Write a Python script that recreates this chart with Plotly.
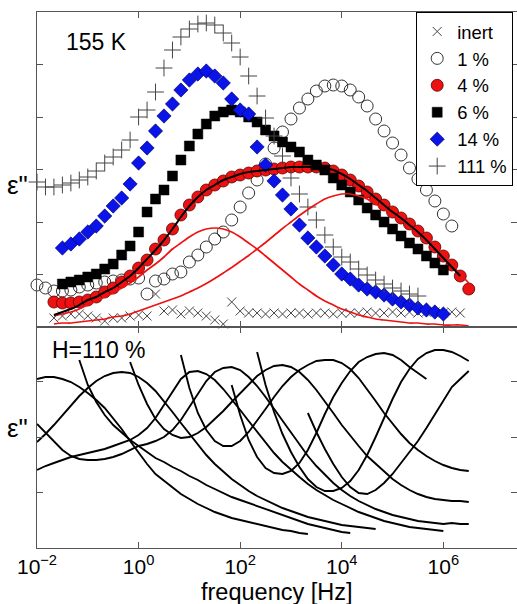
import plotly.graph_objects as go

# log10 of the measurement frequencies (six points per decade)
LOG_F = [-2.0, -1.833, -1.667, -1.5, -1.333, -1.167, -1.0, -0.833, -0.667, -0.5,
         -0.333, -0.167, 0.0, 0.167, 0.333, 0.5, 0.667, 0.833, 1.0, 1.167,
         1.333, 1.5, 1.667, 1.833, 2.0, 2.167, 2.333, 2.5, 2.667, 2.833,
         3.0, 3.167, 3.333, 3.5, 3.667, 3.833, 4.0, 4.167, 4.333, 4.5,
         4.667, 4.833, 5.0, 5.167, 5.333, 5.5, 5.667, 5.833, 6.0, 6.167,
         6.333, 6.5]

# ---- upper panel: loss spectra at 155 K (arbitrary units), first grid index + values
inert_i0 = 2
inert_eps = [1.8, 2.2, 2.6, 2.6, 2.2, 1.8, 1.2, 1.8, 1.8, 2.2, 2.4, 2.2, 6.6, 3.2, 3.4, 2.6,
             3.2, 2.8, 2.2, 1.4, 0.6, 5.0, 3.2, 2.8, 2.8, 2.6, 2.8, 2.6, 2.8, 2.8, 2.6, 2.8,
             2.8, 2.6, 2.8, 2.8, 2.8, 3.0, 2.8, 2.8, 3.0, 2.8, 3.0, 2.8, 3.0, 3.0, 2.8, 3.0, 2.8]

h1_i0 = 0
h1_eps = [8.4, 7.8, 7.2, 7.2, 7.4, 8.0, 8.4, 8.8, 9.0, 9.2, 9.4, 9.6, 9.8, 6.6, 9.2, 9.6,
          10.6, 11.0, 13.0, 14.4, 16.0, 17.6, 19.0, 21.4, 24.0, 26.8, 29.4, 32.6, 35.8, 39.0,
          41.6, 43.8, 45.6, 47.2, 48.2, 48.4, 48.2, 47.4, 46.0, 44.2, 41.6, 39.2, 36.8, 34.4,
          31.8, 29.6, 27.4, 25.2, 22.6, 20.2]

h4_i0 = 2
h4_eps = [5.0, 4.8, 4.8, 5.0, 5.4, 6.0, 7.0, 7.8, 9.0, 10.2, 11.8, 13.4, 15.6, 17.4, 19.6,
          22.4, 24.4, 26.0, 27.4, 28.4, 29.2, 30.0, 30.4, 30.8, 31.2, 31.4, 31.6, 31.8, 32.0,
          32.0, 32.0, 32.0, 31.8, 31.2, 30.4, 29.4, 28.2, 27.0, 25.6, 24.4, 23.0, 21.8, 20.6,
          19.2, 17.8, 16.0, 14.2, 12.4, 10.2, 7.6]

h6_i0 = 3
h6_eps = [8.6, 9.0, 9.4, 10.0, 10.6, 11.6, 12.6, 14.4, 16.2, 19.0, 23.0, 25.6, 27.4, 30.2,
          33.4, 36.2, 38.6, 40.6, 42.2, 43.0, 43.4, 43.0, 42.0, 41.0, 39.4, 38.2, 37.0, 36.0,
          35.0, 33.4, 32.4, 31.4, 29.8, 28.4, 27.0, 25.4, 23.8, 22.4, 21.0, 19.6, 18.2, 16.8,
          15.6, 14.2, 12.8, 11.4]

h14_i0 = 3
h14_eps = [15.8, 16.6, 17.6, 19.0, 20.2, 22.2, 24.2, 25.8, 28.6, 32.8, 35.8, 39.2, 42.2,
           44.6, 47.4, 49.4, 50.6, 51.2, 50.2, 48.8, 45.6, 43.4, 42.6, 36.0, 32.4, 29.2, 26.4,
           23.6, 20.4, 17.8, 16.0, 14.2, 12.4, 10.6, 9.6, 8.4, 7.6, 7.0, 6.4, 5.6, 5.0, 4.4,
           3.8, 3.4, 3.0, 2.6]

h111_i0 = 0
h111_eps = [29.0, 28.0, 28.0, 28.4, 28.8, 29.4, 30.0, 31.2, 32.8, 34.0, 35.4, 37.4, 42.0,
            43.4, 47.0, 51.8, 55.4, 58.0, 59.6, 60.6, 60.8, 60.4, 58.8, 56.8, 54.0, 50.2, 46.2,
            41.8, 38.2, 34.2, 29.8, 26.6, 24.0, 21.4, 18.4, 16.0, 14.0, 13.0, 11.6, 10.4, 9.4,
            8.6, 7.8, 7.2, 6.6, 6.2]

# fit of the 4 % spectrum and its two relaxation components
fit_i0 = 2
fit_total = [2.4, 3.0, 3.6, 4.4, 5.4, 6.0, 7.0, 7.8, 9.0, 10.2, 11.8, 13.6, 15.4, 17.4, 19.6,
             22.0, 24.2, 26.0, 27.4, 28.4, 29.4, 30.0, 30.6, 31.0, 31.2, 31.4, 31.6, 31.8, 32.0,
             32.0, 32.0, 32.0, 31.8, 31.4, 30.6, 29.6, 28.4, 27.2, 25.8, 24.4, 23.0, 21.8, 20.4,
             19.0, 17.4, 15.6, 13.8, 12.0, 10.2]
fit_slow = [2.2, 2.6, 3.0, 3.6, 4.4, 5.2, 6.0, 6.8, 7.8, 8.8, 10.0, 11.4, 12.6, 14.0, 15.6,
            16.8, 18.0, 19.0, 19.6, 19.8, 19.6, 19.0, 18.0, 16.8, 15.6, 14.2, 12.8, 11.4, 10.0,
            8.6, 7.4, 6.2, 5.2, 4.4, 3.6, 3.0, 2.4, 2.0, 1.6, 1.4, 1.2, 1.0, 0.8, 0.8, 0.6, 0.6,
            0.4, 0.4, 0.4, 0.2]
fit_fast = [0.6, 0.8, 0.8, 1.0, 1.2, 1.4, 1.6, 2.0, 2.2, 2.6, 3.2, 3.8, 4.4, 5.0, 5.6, 6.2,
            7.0, 7.8, 8.7, 9.7, 10.8, 11.9, 13.1, 14.3, 15.6, 16.9, 18.3, 19.7, 21.0, 22.3,
            23.5, 24.6, 25.6, 26.2, 26.6, 26.6, 26.2, 25.6, 24.6, 23.6, 22.6, 21.4, 20.2, 19.0,
            17.6, 16.0, 14.2, 12.4, 10.6, 8.8]

legend_names = ["inert", "1 %", "4 %", "6 %", "14 %", "111 %"]

# ---- lower panel: H = 110 % at a series of temperatures (first grid index + values)
t01_i0, t01 = 0, [33.8, 34.2, 34.2, 33.8, 33.2, 32.2, 31.0, 29.6, 28.0, 26.0, 23.8, 21.4, 19.0,
                  16.8, 14.8, 13.4, 12.0, 10.8, 9.8, 8.8, 8.0, 7.2, 6.6, 6.0, 5.6, 5.2, 4.8,
                  4.4, 4.0, 3.6, 3.4, 3.0, 2.8]
t02_i0, t02 = 5, [37.6, 32.6, 29.2, 26.6, 24.6, 23.0, 21.6, 20.4, 19.2, 18.0, 17.2, 16.2, 15.4,
                  14.4, 13.6, 12.6, 11.8, 11.0, 10.2, 9.6, 9.0, 8.4, 7.8, 7.2, 6.6, 6.0, 5.4,
                  4.8, 4.4, 4.0, 3.6, 3.2, 3.0]
t03_i0, t03 = 0, [21.2, 22.8, 24.6, 26.6, 28.6, 30.4, 32.0, 33.4, 34.4, 35.0, 35.2, 35.0, 34.2,
                  33.0, 31.4, 29.4, 27.2, 25.0, 22.8, 20.6, 18.6, 16.8, 15.2, 13.8, 12.6, 11.4,
                  10.4, 9.6, 8.8, 8.0, 7.4, 6.8, 6.2, 5.8, 5.4, 5.0, 4.6, 4.4, 4.2, 4.0, 3.8]
t04_i0, t04 = 0, [15.6, 16.4, 17.0, 17.6, 18.2, 18.6, 19.0, 19.4, 19.8, 20.4, 21.0, 21.6, 22.6,
                  24.0, 26.0, 28.6, 31.4, 33.8, 35.2, 35.4, 34.8, 33.6, 31.8, 29.8, 27.6, 25.4,
                  23.2, 21.0, 19.0, 17.2, 15.6, 14.2, 12.8, 11.6, 10.6, 9.6, 8.8, 8.0, 7.2, 6.6,
                  6.0, 5.4, 5.0, 4.6, 4.2, 4.0, 3.8, 3.6, 3.4]
t05_i0, t05 = 0, [24.8, 23.0, 21.2, 19.6, 18.4, 17.8, 17.6, 17.6, 17.8, 18.2, 18.8, 19.6, 20.4,
                  20.8, 21.4, 22.2, 23.6, 25.6, 28.2, 31.0, 33.4, 35.2, 36.0, 36.2, 35.6, 34.2,
                  32.4, 30.2, 27.8, 25.4, 23.0, 20.6, 18.4, 16.4, 14.6, 13.0, 11.6, 10.4, 9.4,
                  8.6, 7.8, 7.2, 6.6, 6.2, 5.8, 5.4, 5.2, 5.0, 4.8, 5.0, 4.8, 4.8]
t06_i0, t06 = 11, [37.2, 32.6, 28.8, 25.8, 23.8, 22.6, 22.0, 22.2, 23.0, 24.2, 25.8, 27.4,
                   29.2, 31.0, 32.8, 34.4, 35.6, 36.4, 36.6, 36.2, 35.2, 33.6, 31.6, 29.4, 27.0,
                   24.6, 22.4, 20.4, 18.4, 16.8, 15.2, 13.8, 12.6, 11.6, 10.8, 10.2, 9.8, 9.6,
                   9.4, 9.4, 9.2]
t07_i0, t07 = 17, [38.6, 32.0, 27.0, 23.6, 21.4, 20.4, 20.4, 21.4, 23.2, 25.4, 27.8, 30.2,
                   32.4, 34.2, 35.6, 36.6, 37.4, 37.6, 37.6, 37.0, 35.8, 34.0, 31.8, 29.4, 27.0,
                   24.8, 22.8, 21.0, 19.6, 18.4, 17.4, 16.6, 16.0, 15.6, 15.4]
t08_i0, t08 = 23, [32.6, 26.6, 21.6, 18.2, 16.0, 15.0, 14.8, 15.4, 17.0, 19.6, 23.0, 26.8,
                   30.2, 33.0, 35.4, 37.2, 38.2, 38.8, 39.0, 38.6, 37.6, 36.2, 35.0, 33.8]
t09_i0, t09 = 26, [39.2, 32.6, 27.2, 22.8, 19.2, 16.2, 13.8, 12.2, 11.4, 11.4, 12.0, 13.4,
                   15.6, 18.6, 22.2, 26.0, 29.8, 33.2, 35.8, 37.8, 39.0, 39.6, 39.6, 39.2, 38.4,
                   37.4]
t10_i0, t10 = 32, [27.0, 23.2, 19.8, 16.8, 14.2, 12.2, 11.0, 10.8, 11.6, 13.0, 14.8, 17.0,
                   19.2, 21.4, 24.0, 26.8, 29.6, 32.2, 33.8, 35.4]

tick_exp = [-2, 0, 2, 4, 6]
tick_text = ["10<sup>\u22122</sup>", "10<sup>0</sup>", "10<sup>2</sup>",
             "10<sup>4</sup>", "10<sup>6</sup>"]


def freqs(i0, vals):
    return [10 ** e for e in LOG_F[i0:i0 + len(vals)]]


FONT = "Liberation Sans, Arial, Helvetica, sans-serif"
RED = "#ee1111"

fig = go.Figure()

marker_styles = [
    (inert_i0, inert_eps, dict(symbol="x-thin", size=9, color="#444",
                               line=dict(width=1, color="#444"))),
    (h1_i0, h1_eps, dict(symbol="circle-open", size=12, color="#333",
                         line=dict(width=1, color="#333"))),
    (h4_i0, h4_eps, dict(symbol="circle", size=12, color=RED,
                         line=dict(width=0.8, color="#5a0000"))),
    (h6_i0, h6_eps, dict(symbol="square", size=10, color="black",
                         line=dict(width=0.5, color="black"))),
    (h14_i0, h14_eps, dict(symbol="diamond", size=11, color="#0a14e8",
                           line=dict(width=0.6, color="#000060"))),
    (h111_i0, h111_eps, dict(symbol="cross-thin", size=12, color="#444",
                             line=dict(width=1, color="#444"))),
]
for name, (i0, vals, mk) in zip(legend_names, marker_styles):
    fig.add_trace(go.Scatter(x=freqs(i0, vals), y=vals, mode="markers", name=name,
                             marker=mk, cliponaxis=False, xaxis="x", yaxis="y"))

for vals, col, w in [(fit_slow, RED, 1.7), (fit_fast, RED, 1.7), (fit_total, "black", 2.0)]:
    fig.add_trace(go.Scatter(x=freqs(fit_i0, vals), y=vals, mode="lines",
                             line=dict(color=col, width=w, shape="spline", smoothing=0.6),
                             showlegend=False, hoverinfo="skip", xaxis="x", yaxis="y"))

for i0, vals in [(t01_i0, t01), (t02_i0, t02), (t03_i0, t03), (t04_i0, t04), (t05_i0, t05),
                 (t06_i0, t06), (t07_i0, t07), (t08_i0, t08), (t09_i0, t09), (t10_i0, t10)]:
    fig.add_trace(go.Scatter(x=freqs(i0, vals), y=vals, mode="lines",
                             line=dict(color="black", width=1.9), showlegend=False,
                             xaxis="x2", yaxis="y2"))

frame = dict(showline=True, linecolor="#555", linewidth=1, mirror="ticks",
             ticks="inside", ticklen=6, tickcolor="#555", showgrid=False, zeroline=False)

fig.update_layout(
    width=517, height=604,
    margin=dict(l=37, r=0, t=12, b=56),
    paper_bgcolor="white", plot_bgcolor="white",
    font=dict(family=FONT, color="black"),
    xaxis=dict(type="log", range=[-2, 7.45], domain=[0, 1], anchor="y",
               tickvals=[10 ** e for e in tick_exp], showticklabels=False,
               matches="x2", **frame),
    yaxis=dict(range=[0, 63], domain=[0.4123, 1], anchor="x",
               tickvals=[10.5, 21, 31.5, 42, 52.5], showticklabels=False, **frame),
    xaxis2=dict(type="log", range=[-2, 7.45], domain=[0, 1], anchor="y2",
                tickvals=[10 ** e for e in tick_exp], ticktext=tick_text,
                tickfont=dict(size=21, family=FONT, color="black"), **frame),
    yaxis2=dict(range=[0, 44.2], domain=[0, 0.4123], anchor="x2",
                tickvals=[11.1, 22.2, 33.3], showticklabels=False, **frame),
    legend=dict(x=0.79, y=1, xanchor="left", yanchor="top",
                bgcolor="white", bordercolor="black", borderwidth=1,
                font=dict(size=18.4, family=FONT, color="black"),
                tracegroupgap=0, itemwidth=30),
    showlegend=True,
)

annots = [
    dict(text="155 K", x=0.123, y=0.944, size=23),
    dict(text="H=110 %", x=0.129, y=0.369, size=23),
    dict(text="\u03b5\"", x=-0.04, y=0.677, size=26),
    dict(text="\u03b5\"", x=-0.04, y=0.224, size=26),
    dict(text="frequency [Hz]", x=0.5, y=-0.083, size=23.5),
]
for a in annots:
    fig.add_annotation(text=a["text"], x=a["x"], y=a["y"], xref="paper", yref="paper",
                       xanchor="center", yanchor="middle", showarrow=False,
                       font=dict(size=a["size"], family=FONT, color="black"))

fig.write_html("out.html")
